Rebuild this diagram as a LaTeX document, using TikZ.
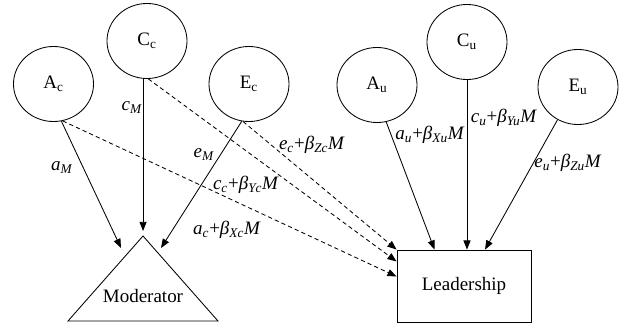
\documentclass[tikz,border=0pt]{standalone}
\usepackage{fontspec}
\setmainfont{Liberation Serif}
\usetikzlibrary{shapes.geometric,arrows.meta}

\newcommand{\pcoef}[3]{\textit{#1}\textsubscript{\textit{#2}}+\textit{β}\textsubscript{\textit{#3}}\textit{M}}
\newcommand{\mcoef}[1]{\textit{#1}\textsubscript{\textit{M}}}

\begin{document}
\begin{tikzpicture}[x=0.025cm, y=-0.025cm, line width=0.6pt,
  every node/.style={font=\fontsize{13.5}{16}\selectfont},
  latent/.style={draw, ellipse, minimum width=2cm, minimum height=1.875cm, inner sep=0pt},
  arr/.style={-{Triangle[length=6.5pt,width=5pt]}},
  dsh/.style={arr, dash pattern=on 3pt off 2.2pt}]

  \useasboundingbox (0,0) rectangle (621,323);

  % shared (c) and unique (u) factors
  \node[latent] (Ac) at (53.5,84) {A\textsubscript{c}};
  \node[latent] (Cc) at (147,41) {C\textsubscript{c}};
  \node[latent] (Ec) at (249,84) {E\textsubscript{c}};
  \node[latent] (Au) at (377,85) {A\textsubscript{u}};
  \node[latent] (Cu) at (467,42) {C\textsubscript{u}};
  \node[latent] (Eu) at (578,87) {E\textsubscript{u}};

  % moderator triangle
  \coordinate (mtip) at (143,236);
  \draw (mtip) -- (218,321) -- (68,321) -- cycle;
  \node (Mod) at (143,296) {Moderator};

  % leadership box
  \node[draw, minimum width=3.35cm, minimum height=1.8cm] (Lead) at (464,286) {Leadership};

  % arrow ends above the triangle
  \coordinate (mA) at (121,248);
  \coordinate (mC) at (143,231);
  \coordinate (mE) at (161,248);

  % paths to the moderator
  \draw[arr] (Ac.-78) -- (mA);
  \draw[arr] (Cc.-96) -- (Cc.-96 |- mC);
  \draw[arr] (Ec.-101) -- (mE);

  % moderated shared paths
  \draw[dsh] (Ac.-76) -- (Lead.172);
  \draw[dsh] (Cc.-88) -- (Lead.160);
  \draw[dsh] (Ec.-99) -- (Lead.north west);

  % unique paths
  \draw[arr] (Au.-76) -- (Lead.129);
  \draw[arr] (Cu.south) -- (Cu.south |- Lead.north);
  \draw[arr] (Eu.-122) -- (Lead.60);

  % path labels
  \node (lcM) at (132,108) {\mcoef{c}};
  \node (laM) at (62,168) {\mcoef{a}};
  \node (leM) at (204,155) {\mcoef{e}};
  \node (lZc) at (312,145) {\pcoef{e}{c}{Zc}};
  \node (lYc) at (246,185) {\pcoef{c}{c}{Yc}};
  \node (lXc) at (227,230) {\pcoef{a}{c}{Xc}};
  \node (lXu) at (430,135) {\pcoef{a}{u}{Xu}};
  \node (lYu) at (504,118) {\pcoef{c}{u}{Yu}};
  \node (lZu) at (568,163) {\pcoef{e}{u}{Zu}};
\end{tikzpicture}
\end{document}
